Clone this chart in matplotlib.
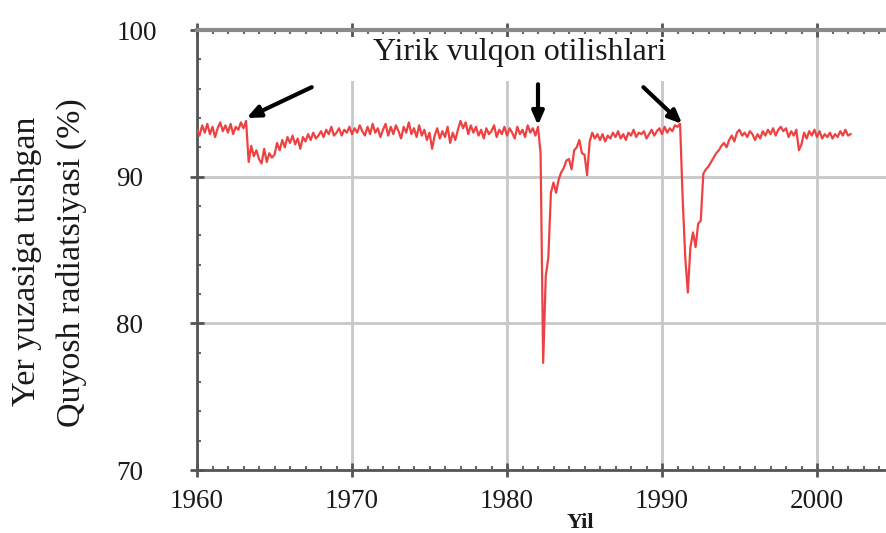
import numpy as np
import matplotlib
matplotlib.use("Agg")
import matplotlib.pyplot as plt
from matplotlib.ticker import MultipleLocator
from matplotlib.patches import Rectangle

# ---- data (6 samples per year, starting 1960.0) ----
start_year = 1960
samples_per_year = 6
radiation = [
    93.2, 92.8, 93.5, 93.0, 93.6, 92.9,   # 1960
    93.4, 92.7, 93.3, 93.7, 93.1, 93.5,   # 1961
    93.0, 93.6, 92.9, 93.4, 93.2, 93.7,   # 1962
    93.3, 93.8, 91.0, 92.1, 91.4, 91.8,   # 1963
    91.2, 90.9, 91.9, 91.0, 91.6, 91.3,   # 1964
    91.5, 92.3, 91.8, 92.5, 92.0, 92.7,   # 1965
    92.3, 92.8, 92.2, 92.6, 91.9, 92.7,   # 1966
    92.4, 92.9, 92.5, 93.0, 92.6, 92.8,   # 1967
    93.1, 92.7, 93.2, 92.9, 93.4, 92.8,   # 1968
    93.0, 93.3, 92.8, 93.2, 93.0, 93.4,   # 1969
    92.9, 93.3, 93.0, 93.5, 93.1, 92.8,   # 1970
    93.4, 92.9, 93.6, 93.0, 93.3, 92.7,   # 1971
    93.2, 93.6, 92.8, 93.4, 92.9, 93.5,   # 1972
    93.1, 92.6, 93.4, 93.0, 93.7, 92.9,   # 1973
    93.3, 92.7, 93.5, 92.8, 93.2, 92.5,   # 1974
    93.0, 91.9, 92.8, 93.3, 92.6, 93.1,   # 1975
    92.7, 93.4, 92.3, 93.0, 92.5, 93.2,   # 1976
    93.8, 93.3, 93.7, 92.9, 93.5, 93.0,   # 1977
    93.4, 92.8, 93.2, 92.6, 93.3, 92.9,   # 1978
    93.1, 93.5, 92.7, 93.2, 92.9, 93.4,   # 1979
    92.8, 93.3, 93.0, 92.6, 93.4, 92.9,   # 1980
    93.2, 92.7, 93.5, 93.0, 93.3, 92.8,   # 1981
    93.4, 91.6, 77.3, 83.2, 84.5, 88.9,   # 1982
    89.6, 88.9, 89.8, 90.3, 90.6, 91.1,   # 1983
    91.2, 90.5, 91.8, 92.0, 92.5, 91.6,   # 1984
    91.5, 90.1, 92.4, 93.0, 92.6, 92.9,   # 1985
    92.5, 92.9, 92.4, 92.8, 92.6, 93.0,   # 1986
    92.7, 93.1, 92.6, 92.9, 92.5, 93.0,   # 1987
    92.8, 93.2, 92.7, 93.0, 92.9, 93.1,   # 1988
    92.6, 92.9, 93.2, 92.8, 93.1, 93.3,   # 1989
    92.9, 93.4, 93.0, 93.3, 93.1, 93.5,   # 1990
    93.4, 93.6, 88.5, 84.5, 82.1, 85.2,   # 1991
    86.2, 85.2, 86.8, 87.0, 90.2, 90.5,   # 1992
    90.7, 91.0, 91.3, 91.6, 91.8, 92.1,   # 1993
    92.3, 92.0, 92.5, 92.8, 92.4, 93.0,   # 1994
    93.2, 92.8, 93.0, 92.7, 93.1, 92.9,   # 1995
    92.5, 92.9, 92.6, 93.1, 92.8, 93.2,   # 1996
    92.9, 93.3, 92.8, 93.2, 93.4, 93.1,   # 1997
    93.3, 92.7, 93.1, 92.8, 93.2, 91.8,   # 1998
    92.2, 93.0, 92.6, 93.1, 92.8, 93.2,   # 1999
    92.7, 93.1, 92.6, 92.9, 92.7, 93.0,   # 2000
    92.6, 92.9, 92.7, 93.1, 92.8, 93.2,   # 2001
    92.8, 92.9,                           # 2002
]
years = start_year + np.arange(len(radiation)) / samples_per_year

x_ticks = [1960, 1970, 1980, 1990, 2000]
y_ticks = [70, 80, 90, 100]
title_text = "Yirik vulqon otilishlari"
ylabel_line1 = "Yer yuzasiga tushgan"
ylabel_line2 = "Quyosh radiatsiyasi (%)"
xlabel_text = "Yil"
# annotation arrows: (tail, head) in data coordinates
arrows = [((1967.4, 96.1), (1963.2, 94.0)),
          ((1982.0, 96.3), (1982.0, 93.5)),
          ((1988.8, 96.1), (1991.3, 93.6))]

plt.rcParams['font.family'] = ['Liberation Serif', 'DejaVu Serif']

fig = plt.figure(figsize=(8.87, 5.33), dpi=100)
ax = fig.add_axes([197/887, 1 - 470/533, (894.5 - 197)/887, 440/533])
ax.set_xlim(1960, 2005)
ax.set_ylim(70, 100)

ax.plot(years, radiation, color='#ee4242', lw=1.6, zorder=3)

ax.set_xticks(x_ticks)
ax.set_yticks(y_ticks)
ax.xaxis.set_minor_locator(MultipleLocator(1))
ax.yaxis.set_minor_locator(MultipleLocator(2))
ax.grid(True, which='major', color='#c8c8c8', lw=2)
for s in ax.spines.values():
    s.set_color('#555555')
    s.set_linewidth(2)
ax.spines['top'].set_color('#8a8a8a')
ax.spines['top'].set_linewidth(3)

ax.tick_params(which='major', direction='inout', length=10, width=2, color='#555555',
               top=True, right=True, labelsize=19.5, labelcolor='#1a1a1a')
ax.tick_params(which='minor', direction='in', length=3, width=1.5, color='#666666',
               top=True, right=True)
ax.tick_params(axis='x', which='major', pad=9)
ax.tick_params(axis='y', which='major', pad=53)
for lab in ax.get_yticklabels():
    lab.set_horizontalalignment('left')

# white panel behind the annotation title (covers grid, not the frame)
ax.add_patch(Rectangle((1962.1, 96.5), 35.5, 3.05, facecolor='white',
                       edgecolor='none', zorder=2))
ax.text(1980.8, 98.5, title_text, ha='center', va='center', fontsize=23,
        color='#1a1a1a', zorder=5)

for tail, head in arrows:
    ax.annotate('', xy=head, xytext=tail,
                arrowprops=dict(arrowstyle='-|>,head_length=0.8,head_width=0.35',
                                color='black', lw=3, shrinkA=0, shrinkB=0),
                zorder=6)

fig.text(27/887, 1 - 261/533, ylabel_line1, rotation=90, ha='center', va='center',
         fontsize=24.5, color='#1a1a1a')
fig.text(71/887, 1 - 263/533, ylabel_line2, rotation=90, ha='center', va='center',
         fontsize=24.5, color='#1a1a1a')
fig.text(580/887, 1 - 523/533, xlabel_text, ha='center', va='center',
         fontsize=16, fontweight='bold', color='#1a1a1a')

fig.savefig('out.png', dpi=100)
